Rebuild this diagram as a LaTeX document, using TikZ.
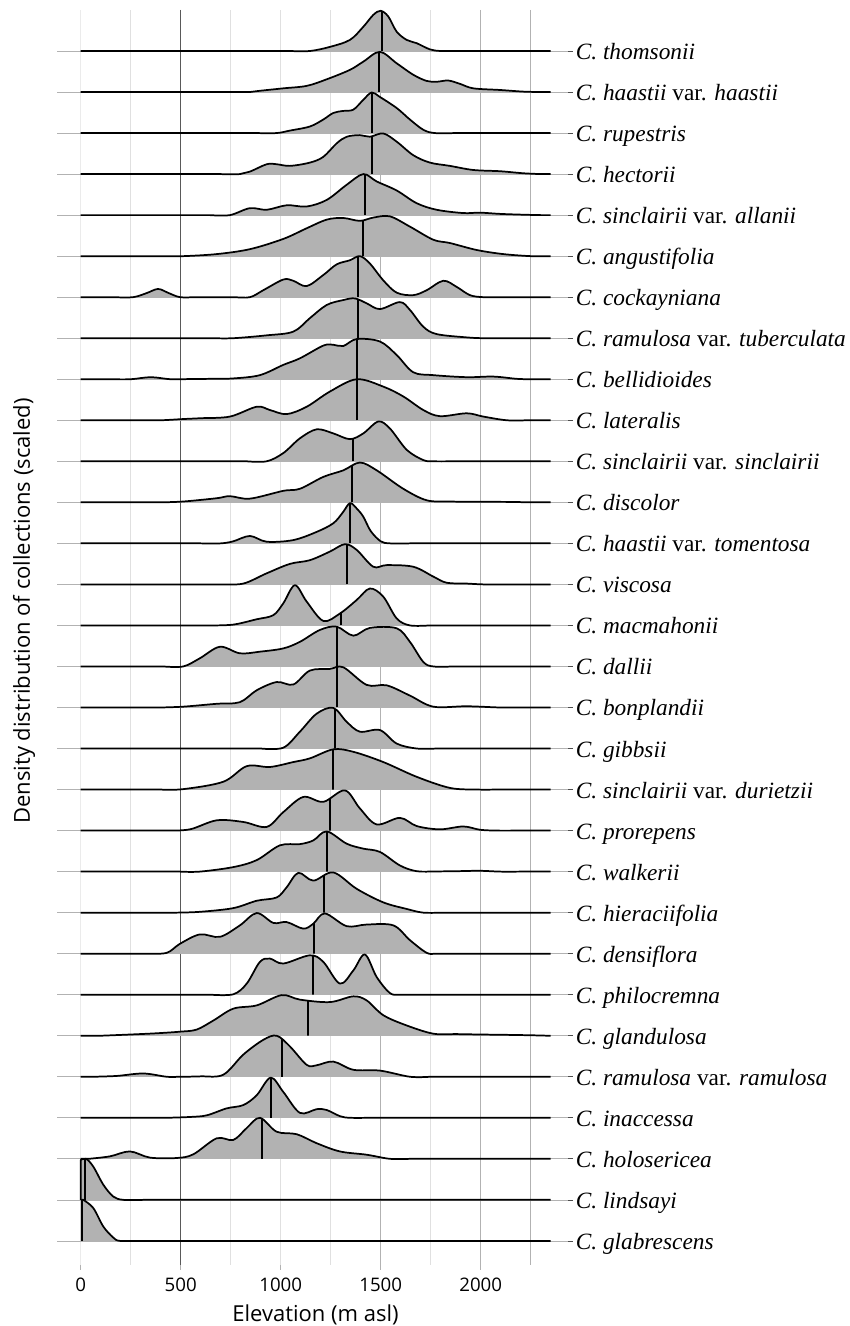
\documentclass[tikz,border=0pt]{standalone}
\usepackage{fontspec}
\setmainfont{Liberation Serif}
\newfontfamily\axisfont{Open Sans}
\usepackage{tikz}
\tikzstyle{density}=[
        fill=black!30
]
\tikzstyle{ridgeline}=[
        draw=black,
        line width=1.3pt,
        line join=round
]
\tikzstyle{quantile}=[
        draw=black,
        line width=1.4pt
]
\tikzstyle{species}=[
        anchor=base west,
        inner sep=0pt,
        font=\fontsize{17.5}{20}\selectfont
]
% one ridge: row, median, start, smooth points (elevation, scaled height)
\newcommand{\ridge}[4]{%
  \begin{scope}[shift={(80.7,{51+41.03*(#1-1)})},xscale=0.2,yscale=-41.03]
    \fill[density] (#3,0) -- plot[smooth,tension=0.55] coordinates {#4} -- (2350,0) -- cycle;
    \begin{scope}
      \clip (#3,0) -- plot[smooth,tension=0.55] coordinates {#4} -- (2350,0) -- cycle;
      \draw[quantile] (#2,0) -- (#2,1.4);
    \end{scope}
    \draw[ridgeline] (#3,0) -- plot[smooth,tension=0.55] coordinates {#4} -- (2350,0);
  \end{scope}}

\begin{document}
\begin{tikzpicture}[x=0.75pt,y=-0.75pt]
                        \useasboundingbox (0,0) rectangle (849,1326);

                        % grid
                        \foreach \m in {250,750,1000,1250,1750} {
                            \draw[black!12, line width=0.5pt] ({80.7+0.2*\m},10) -- ({80.7+0.2*\m},1265);
                        }
                        \draw[black!8, line width=0.5pt] (80.7,10) -- (80.7,1265);
                        \foreach \m in {1500,2000,2250} {
                            \draw[black!30, line width=0.5pt] ({80.7+0.2*\m},10) -- ({80.7+0.2*\m},1265);
                        }
                        \draw[black!65, line width=0.5pt] (180.7,10) -- (180.7,1265);
                        \foreach \i in {1,...,30} {
                            \draw[black!30, line width=0.5pt] (57,{51+41.03*(\i-1)}) -- (568,{51+41.03*(\i-1)});
                            \draw[black!70, line width=0.5pt] (568,{51+41.03*(\i-1)}) -- (573,{51+41.03*(\i-1)});
                        }

                        % x axis
                        \foreach \m in {0,500,...,2000} {
                            \draw[black!30, line width=0.5pt] ({80.7+0.2*\m},1265) -- ({80.7+0.2*\m},1270);
                            \node[anchor=base, inner sep=0pt, font=\axisfont\fontsize{14}{16}\selectfont] (tick\m) at ({80.7+0.2*\m},1291.7) {\m};
                        }
                        \node[anchor=base, inner sep=0pt, font=\axisfont\fontsize{16.5}{18}\selectfont] (xlab) at (315.5,1321.7) {Elevation (m asl)};
                        \node[rotate=90, inner sep=0pt, font=\axisfont\fontsize{16.5}{18}\selectfont] (ylab) at (24,611) {Density distribution of collections (scaled)};

                        % ridges, top to bottom
                        \ridge{1}{1505}{0}{(1046,0) (1146,0) (1246,0.1) (1346,0.27) (1413,0.59) (1463,0.88) (1500,0.98) (1538,0.84) (1580,0.47) (1630,0.27) (1680,0.19) (1746,0.04) (1800,0) (1900,0)}
                        \ridge{2}{1493}{0}{(746,0) (846,0) (896,0.03) (1013,0.09) (1130,0.15) (1230,0.31) (1346,0.54) (1413,0.74) (1496,0.98) (1580,0.7) (1663,0.42) (1730,0.27) (1780,0.25) (1838,0.28) (1896,0.2) (1963,0.09) (2096,0.05) (2213,0.01) (2300,0)}
                        \ridge{3}{1455}{0}{(880,0) (980,0) (1046,0.06) (1146,0.16) (1213,0.33) (1263,0.49) (1313,0.54) (1363,0.57) (1413,0.81) (1455,0.99) (1496,0.88) (1580,0.61) (1646,0.33) (1713,0.08) (1770,0) (1870,0)}
                        \ridge{4}{1455}{0}{(696,0) (796,0) (846,0.06) (930,0.24) (980,0.24) (1046,0.2) (1146,0.28) (1213,0.42) (1280,0.75) (1330,0.91) (1396,0.95) (1446,0.91) (1513,0.99) (1580,0.79) (1663,0.46) (1746,0.28) (1846,0.2) (1963,0.1) (2096,0.07) (2213,0.02) (2300,0)}
                        \ridge{5}{1421}{0}{(646,0) (746,0) (846,0.17) (930,0.13) (1030,0.24) (1130,0.21) (1230,0.37) (1330,0.74) (1413,1.0) (1480,0.82) (1580,0.6) (1680,0.29) (1780,0.13) (1913,0.05) (1996,0.06) (2096,0.03) (2213,0.01) (2300,0)}
                        \ridge{6}{1410}{0}{(413,0) (513,0) (680,0.05) (846,0.17) (1013,0.42) (1130,0.68) (1230,0.89) (1313,0.93) (1396,0.86) (1463,0.94) (1546,0.97) (1646,0.72) (1763,0.4) (1846,0.32) (1980,0.15) (2113,0.05) (2250,0) (2330,0)}
                        \ridge{7}{1388}{0}{(162,0) (262,0) (330,0.1) (387,0.2) (440,0.1) (497,0) (580,0) (670,0) (760,0) (846,0) (913,0.17) (1013,0.43) (1063,0.4) (1130,0.27) (1213,0.54) (1280,0.8) (1346,0.9) (1396,1.0) (1446,0.82) (1513,0.41) (1580,0.11) (1663,0.05) (1730,0.17) (1813,0.4) (1880,0.25) (1946,0.05) (2013,0) (2113,0)}
                        \ridge{8}{1385}{0}{(663,0) (763,0) (930,0.07) (1063,0.16) (1146,0.49) (1230,0.81) (1313,0.93) (1371,0.97) (1430,0.85) (1496,0.71) (1596,0.88) (1646,0.69) (1713,0.28) (1780,0.1) (1930,0.02) (2013,0) (2113,0)}
                        \ridge{9}{1383}{0}{(150,0) (250,0) (350,0.05) (450,0) (550,0.005) (650,0.01) (763,0.02) (896,0.1) (1013,0.35) (1096,0.51) (1213,0.82) (1263,0.84) (1313,0.81) (1380,0.98) (1496,0.92) (1580,0.59) (1663,0.17) (1763,0.1) (1930,0.05) (2063,0.065) (2180,0.01) (2250,0) (2330,0)}
                        \ridge{10}{1380}{0}{(300,0) (400,0) (513,0.03) (600,0.05) (746,0.09) (880,0.33) (946,0.25) (1030,0.15) (1130,0.33) (1246,0.7) (1380,1.0) (1513,0.82) (1613,0.58) (1713,0.25) (1796,0.1) (1930,0.17) (2013,0.09) (2130,0) (2230,0)}
                        \ridge{11}{1363}{0}{(830,0) (930,0) (1013,0.2) (1096,0.56) (1180,0.78) (1263,0.68) (1346,0.54) (1413,0.68) (1488,0.97) (1546,0.8) (1630,0.28) (1713,0.03) (1763,0) (1863,0)}
                        \ridge{12}{1355}{0}{(400,0) (513,0.02) (680,0.1) (746,0.15) (846,0.09) (1013,0.28) (1096,0.33) (1213,0.62) (1313,0.78) (1396,0.97) (1480,0.78) (1613,0.33) (1730,0.05) (1846,0.02) (1950,0.015) (2050,0.012) (2150,0.01) (2250,0) (2330,0)}
                        \ridge{13}{1346}{0}{(600,0) (700,0) (763,0.05) (846,0.18) (930,0.04) (1063,0.08) (1180,0.28) (1263,0.49) (1310,0.75) (1346,0.98) (1380,0.85) (1413,0.65) (1450,0.3) (1500,0.05) (1546,0) (1646,0)}
                        \ridge{14}{1333}{0}{(700,0) (813,0.02) (930,0.27) (1046,0.5) (1146,0.59) (1246,0.8) (1321,0.98) (1380,0.84) (1463,0.43) (1530,0.47) (1663,0.43) (1763,0.19) (1830,0.04) (1930,0.02) (2013,0) (2113,0)}
                        \ridge{15}{1301}{0}{(650,0) (763,0.02) (880,0.15) (963,0.25) (1013,0.54) (1071,0.98) (1130,0.58) (1213,0.11) (1296,0.29) (1380,0.62) (1446,0.9) (1513,0.7) (1580,0.17) (1646,0) (1746,0)}
                        \ridge{16}{1280}{0}{(413,0) (513,0) (596,0.2) (696,0.48) (796,0.32) (896,0.36) (1013,0.44) (1096,0.6) (1196,0.89) (1280,0.97) (1363,0.75) (1446,0.94) (1580,0.93) (1646,0.6) (1713,0.11) (1763,0) (1863,0)}
                        \ridge{17}{1280}{0}{(400,0) (513,0.02) (680,0.09) (796,0.13) (880,0.42) (980,0.62) (1063,0.56) (1146,0.9) (1246,0.94) (1313,0.98) (1430,0.55) (1530,0.54) (1646,0.29) (1763,0.02) (1930,0.03) (2096,0) (2196,0)}
                        \ridge{18}{1271}{0}{(900,0) (1013,0.02) (1096,0.41) (1180,0.85) (1263,0.99) (1330,0.65) (1396,0.41) (1496,0.45) (1580,0.12) (1680,0) (1780,0)}
                        \ridge{19}{1263}{0}{(400,0) (513,0.01) (713,0.19) (830,0.57) (946,0.55) (1063,0.67) (1146,0.76) (1263,0.98) (1363,0.92) (1513,0.67) (1680,0.31) (1846,0.04) (1980,0) (2080,0)}
                        \ridge{20}{1246}{0}{(430,0) (546,0.03) (680,0.25) (813,0.21) (930,0.09) (1013,0.45) (1113,0.82) (1213,0.7) (1321,0.98) (1396,0.54) (1480,0.15) (1596,0.31) (1680,0.11) (1796,0.03) (1913,0.1) (1996,0.02) (2080,0) (2180,0)}
                        \ridge{21}{1230}{0}{(496,0) (596,0) (763,0.11) (880,0.28) (996,0.64) (1096,0.67) (1163,0.76) (1230,0.98) (1330,0.68) (1413,0.56) (1496,0.48) (1596,0.15) (1680,0.01) (1780,0.005) (1880,0.01) (1996,0.02) (2096,0) (2196,0)}
                        \ridge{22}{1218}{0}{(480,0) (596,0.02) (763,0.11) (880,0.29) (980,0.37) (1030,0.62) (1088,0.97) (1163,0.78) (1263,0.98) (1380,0.58) (1513,0.25) (1630,0.09) (1713,0) (1813,0)}
                        \ridge{23}{1168}{0}{(330,0) (430,0.02) (496,0.24) (596,0.47) (696,0.41) (796,0.69) (880,0.99) (963,0.75) (1030,0.77) (1113,0.61) (1163,0.73) (1221,0.98) (1330,0.67) (1430,0.71) (1563,0.69) (1646,0.33) (1730,0.02) (1780,0) (1880,0)}
                        \ridge{24}{1163}{0}{(650,0) (763,0.01) (830,0.27) (896,0.8) (946,0.88) (1013,0.76) (1146,0.96) (1213,0.8) (1296,0.27) (1363,0.59) (1421,0.98) (1480,0.43) (1546,0.04) (1596,0) (1696,0)}
                        \ridge{25}{1135}{0}{(100,0) (250,0.03) (380,0.06) (500,0.1) (580,0.15) (663,0.37) (763,0.66) (880,0.74) (1005,0.99) (1096,0.88) (1246,0.82) (1363,0.96) (1430,0.86) (1513,0.5) (1630,0.25) (1763,0.05) (1880,0.04) (1996,0.03) (2150,0.02) (2263,0.01) (2340,0)}
                        \ridge{26}{1005}{0}{(60,0) (180,0.02) (313,0.08) (430,0) (496,0) (600,0.01) (713,0.05) (813,0.54) (913,0.9) (980,1.0) (1046,0.74) (1130,0.29) (1180,0.28) (1263,0.37) (1363,0.17) (1496,0.15) (1646,0) (1746,0)}
                        \ridge{27}{950}{0}{(430,0) (546,0.02) (630,0.06) (730,0.23) (813,0.31) (880,0.55) (950,0.98) (1013,0.63) (1096,0.12) (1180,0.21) (1230,0.19) (1296,0.04) (1346,0) (1446,0)}
                        \ridge{28}{905}{0}{(40,0) (146,0.06) (246,0.18) (346,0.03) (480,0.02) (563,0.11) (680,0.5) (763,0.46) (830,0.75) (896,1.0) (980,0.66) (1080,0.6) (1180,0.38) (1296,0.18) (1430,0.1) (1546,0) (1646,0)}
                        \ridge{29}{22}{0}{(0,0.97) (27,1.0) (63,0.81) (113,0.37) (163,0.08) (213,0) (313,0)}
                        \ridge{30}{7}{5}{(5,0.99) (13,1.0) (63,0.8) (113,0.35) (163,0.08) (196,0) (296,0)}

                        % species labels
                        \foreach \name [count=\i] in {
                            {\textit{C. thomsonii}},
                            {\textit{C. haastii} var. \textit{haastii}},
                            {\textit{C. rupestris}},
                            {\textit{C. hectorii}},
                            {\textit{C. sinclairii} var. \textit{allanii}},
                            {\textit{C. angustifolia}},
                            {\textit{C. cockayniana}},
                            {\textit{C. ramulosa} var. \textit{tuberculata}},
                            {\textit{C. bellidioides}},
                            {\textit{C. lateralis}},
                            {\textit{C. sinclairii} var. \textit{sinclairii}},
                            {\textit{C. discolor}},
                            {\textit{C. haastii} var. \textit{tomentosa}},
                            {\textit{C. viscosa}},
                            {\textit{C. macmahonii}},
                            {\textit{C. dallii}},
                            {\textit{C. bonplandii}},
                            {\textit{C. gibbsii}},
                            {\textit{C. sinclairii} var. \textit{durietzii}},
                            {\textit{C. prorepens}},
                            {\textit{C. walkerii}},
                            {\textit{C. hieraciifolia}},
                            {\textit{C. densiflora}},
                            {\textit{C. philocremna}},
                            {\textit{C. glandulosa}},
                            {\textit{C. ramulosa} var. \textit{ramulosa}},
                            {\textit{C. inaccessa}},
                            {\textit{C. holosericea}},
                            {\textit{C. lindsayi}},
                            {\textit{C. glabrescens}}} {
                            \node[species] (sp\i) at (575.5,{59.5+41.03*(\i-1)}) {\name};
                        }
\end{tikzpicture}
\end{document}
